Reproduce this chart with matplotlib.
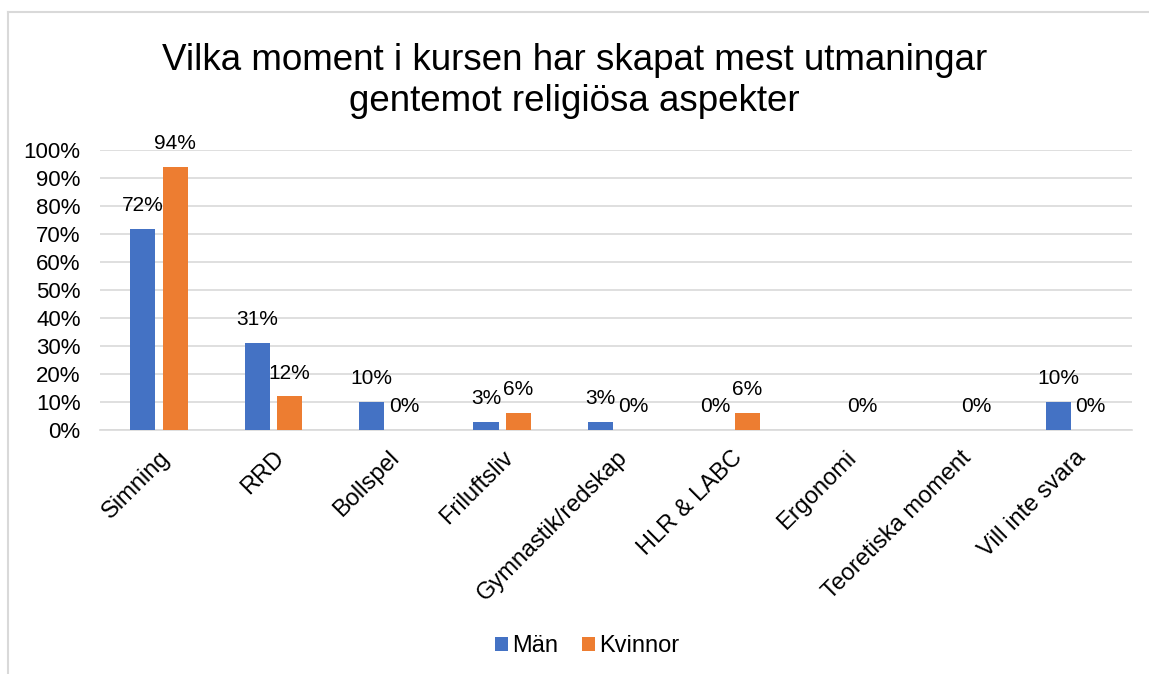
import numpy as np
import matplotlib.pyplot as plt
from matplotlib.lines import Line2D

categories = ["Simning", "RRD", "Bollspel", "Friluftsliv", "Gymnastik/redskap",
              "HLR & LABC", "Ergonomi", "Teoretiska moment", "Vill inte svara"]
man = [72, 31, 10, 3, 3, 0, np.nan, np.nan, 10]
kvinnor = [94, 12, 0, 6, 0, 6, 0, 0, 0]

plt.rcParams['font.family'] = ['Liberation Sans', 'DejaVu Sans']

fig = plt.figure(figsize=(11.49, 6.74), dpi=100)
ax = fig.add_axes([0.087, 0.362, 0.898, 0.415])

x = np.arange(len(categories))
w = 0.222
off = 0.142
blue, orange = '#4472C4', '#ED7D31'
b1 = ax.bar(x - off, np.nan_to_num(man), w, color=blue, label='Män', zorder=3)
b2 = ax.bar(x + off, kvinnor, w, color=orange, label='Kvinnor', zorder=3)

# data labels (Män has no label where the value is missing)
for xi, v in zip(x, man):
    if not np.isnan(v):
        ax.annotate(f"{v:.0f}%", (xi - off, v), xytext=(0, 10), textcoords='offset points',
                    ha='center', va='bottom', fontsize=15)
for xi, v in zip(x, kvinnor):
    ax.annotate(f"{v:.0f}%", (xi + off, v), xytext=(0, 10), textcoords='offset points',
                ha='center', va='bottom', fontsize=15)

ax.set_ylim(0, 100)
ax.set_xlim(-0.516, len(categories) - 0.5)
ax.set_yticks(range(0, 101, 10))
ax.set_yticklabels([f"{t}%" for t in range(0, 101, 10)], fontsize=16)
ax.set_xticks(x)
ax.set_xticklabels(categories, rotation=45, ha='right', rotation_mode='anchor', fontsize=17)
ax.tick_params(axis='y', length=0, pad=14)
ax.tick_params(axis='x', length=0, pad=12)
ax.grid(axis='y', color='#D9D9D9', linewidth=1.2, zorder=0)
for s in ['top', 'right', 'left']:
    ax.spines[s].set_visible(False)
ax.spines['bottom'].set_color('#D9D9D9')
ax.spines['bottom'].set_linewidth(1.2)

fig.text(0.5, 0.88, "Vilka moment i kursen har skapat mest utmaningar\ngentemot religiösa aspekter",
         ha='center', va='center', fontsize=26.5, linespacing=1.2)

fig.legend(handles=[b1, b2], loc='center', bbox_to_anchor=(0.511, 0.041), ncol=2, frameon=False,
           fontsize=17, handlelength=0.55, handleheight=0.55, handletextpad=0.2, columnspacing=1.0)

fig.add_artist(Line2D([8 / 1149, 1], [1 - 12 / 674, 1 - 12 / 674], color='#D9D9D9', lw=1.5))
fig.add_artist(Line2D([8 / 1149, 8 / 1149], [0, 1 - 12 / 674], color='#D9D9D9', lw=1.5))

fig.savefig('out.png', dpi=100)
